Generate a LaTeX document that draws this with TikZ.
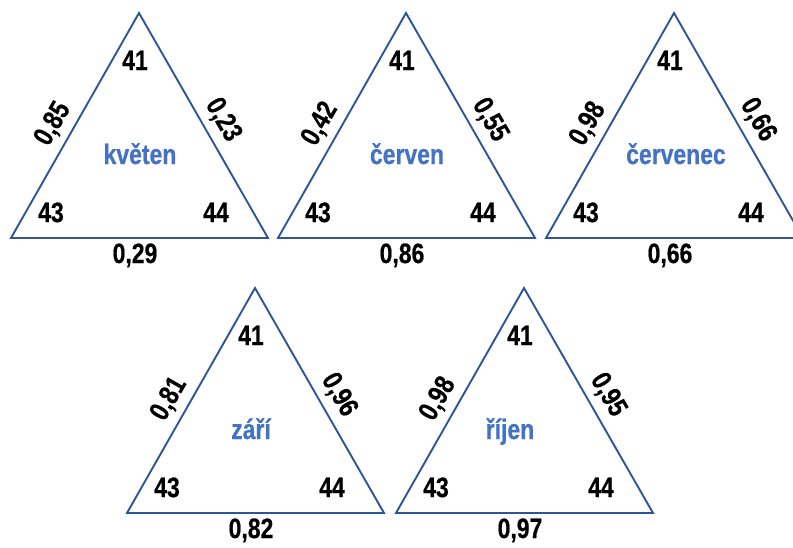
\documentclass[tikz,border=0pt]{standalone}
\usepackage{fontspec}
\setmainfont{Liberation Sans}[FakeStretch=0.82, BoldFeatures={FakeBold=0.6}]
\definecolor{edgeblue}{HTML}{2F5597}
\definecolor{monthblue}{HTML}{4472C4}
\tikzset{
  tri/.style={draw=edgeblue, line width=1.9pt, line join=miter},
  num/.style={font=\bfseries\fontsize{28}{30}\selectfont, inner sep=0pt, text=black},
  monthlabel/.style={num, text=monthblue},
}
% #1 name, #2 apex x, #3 apex y, #4 month dx, #5 month, #6 left, #7 right, #8 bottom
\newcommand{\monthtri}[8]{%
  \coordinate (#1a) at (#2,#3);
  \coordinate (#1b) at ({#2-128},{#3+225});
  \coordinate (#1c) at ({#2+129},{#3+225});
  \draw[tri] (#1a) -- (#1b) -- (#1c) -- cycle;
  \node[num, anchor=base] (#1top) at ({#2-4},{#3+57}) {41};
  \node[num, anchor=base] (#1bl) at ({#2-88},{#3+209}) {43};
  \node[num, anchor=base] (#1br) at ({#2+77},{#3+209}) {44};
  \node[monthlabel, anchor=base] (#1m) at ({#2+#4},{#3+151}) {#5};
  \node[num, rotate=60] (#1le) at ({#2-86},{#3+111}) {#6};
  \node[num, rotate=-60] (#1re) at ({#2+84},{#3+107}) {#7};
  \node[num, anchor=base] (#1bo) at ({#2-4},{#3+250}) {#8};
}
\begin{document}
\begin{tikzpicture}[x=1pt,y=-1pt]
  \useasboundingbox (0,0) rectangle (793,547);
  \clip (0,0) rectangle (793,547);
  \monthtri{t1}{139}{13}{1}{květen}{0,85}{0,23}{0,29}
  \monthtri{t2}{406}{13}{1}{červen}{0,42}{0,55}{0,86}
  \monthtri{t3}{674}{13}{2}{červenec}{0,98}{0,66}{0,66}
  \monthtri{t4}{255}{288}{-4}{září}{0,81}{0,96}{0,82}
  \monthtri{t5}{524}{288}{-14}{říjen}{0,98}{0,95}{0,97}
\end{tikzpicture}
\end{document}
